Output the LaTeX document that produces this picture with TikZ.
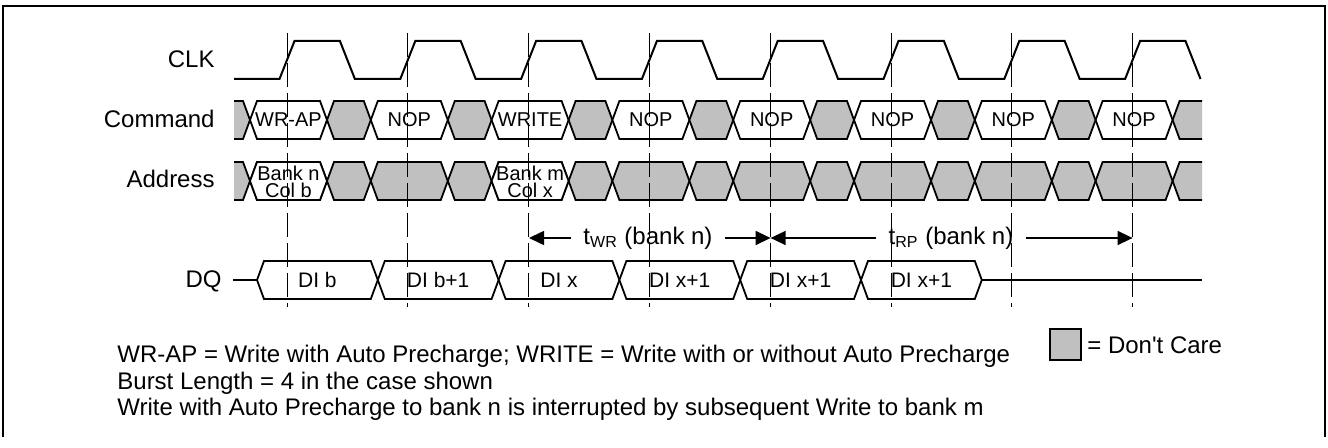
\documentclass[tikz,border=0pt]{standalone}
\usepackage{fontspec}
\setmainfont{Liberation Sans}[Ligatures=TeXOff]
\usetikzlibrary{arrows.meta}
\definecolor{dcgray}{RGB}{192,192,192}
% one bus cell: from, to, middle, fill
\newcommand{\buscell}[4]{%
  \filldraw[cell, fill=#4] ({#1},{#3}) -- ({#1+7},{#3-19}) -- ({#2-7},{#3-19}) -- ({#2},{#3})
    -- ({#2-7},{#3+19}) -- ({#1+7},{#3+19}) -- cycle;}
\begin{document}
\begin{tikzpicture}[x=0.5pt,y=-0.5pt,>={Triangle[length=7.5pt,width=7pt]},font=\fontsize{12}{14}\selectfont]
  \tikzset{sig/.style={line width=1pt},
    cell/.style={line width=0.9pt},
    grid/.style={line width=0.5pt, dash pattern=on 12pt off 3pt},
    lbl/.style={anchor=base east, inner sep=0pt},
    cmd/.style={font=\fontsize{10}{12}\selectfont, inner sep=0pt},
    addr/.style={font=\fontsize{10}{12}\selectfont, align=center, inner sep=0pt},
    dat/.style={font=\fontsize{10.5}{12}\selectfont, inner sep=0pt},
    tlbl/.style={inner xsep=6pt, inner ysep=0pt},
    note/.style={anchor=base west, inner sep=0pt}}
  \useasboundingbox (0,0) rectangle (1328,448);
  \draw[line width=0.8pt] (3,437) -- (3,6) -- (1325,6) -- (1325,437);

  % signal names
  \node[lbl] (clk) at (215,68) {CLK};
  \node[lbl] (command) at (215,128) {Command};
  \node[lbl] (address) at (215,188) {Address};
  \node[lbl] (dq) at (222,288) {DQ};

  % clock
  \draw[sig] (234,79) \foreach \k in {0,...,7} {
    -- ({287+120.8*\k-7.5},79) -- ({287+120.8*\k+7.5},41)
    -- ({287+120.8*\k+52.9},41) -- ({287+120.8*\k+67.9},79) };

  % command and address buses
  \begin{scope}
    \clip (234,90) rectangle (1202,210);
    \foreach \k in {-1,...,7} {
      \pgfmathsetmacro{\a}{250+120.8*\k}
      \pgfmathsetmacro{\b}{327+120.8*\k}
      \pgfmathsetmacro{\c}{370.8+120.8*\k}
      \buscell{\a}{\b}{120}{white}
      \buscell{\b}{\c}{120}{dcgray}
      \buscell{\a}{\b}{181}{dcgray}
      \buscell{\b}{\c}{181}{dcgray}
    }
  \end{scope}
  \buscell{250}{327}{181}{white}
  \buscell{491.6}{568.6}{181}{white}
  \foreach \t [count=\i from 0] in {WR-AP,NOP,WRITE,NOP,NOP,NOP,NOP,NOP}
    \node[cmd] (cmd\i) at ({288.5+120.8*\i},120) {\t};
  \node[addr] (addr0) at (288.5,182) {Bank n\\[-3.3pt]Col b};
  \node[addr] (addr2) at (530.1,182) {Bank m\\[-3.3pt]Col x};

  % data bus
  \draw[sig] (233,280) -- (257,280);
  \foreach \j in {0,...,5}
    \buscell{257+120.8*\j}{257+120.8*(\j+1)}{280}{white}
  \draw[sig] (981.8,280) -- (1202,280);
  \foreach \t [count=\i from 0] in {DI b,DI b+1,DI x,DI x+1,DI x+1,DI x+1}
    \node[dat] (dq\i) at ({317.4+120.8*\i},280) {\t};

  % clock edges
  \foreach \k in {0,...,7}
    \draw[grid] ({287+120.8*\k},33) -- ({287+120.8*\k},307);

  % timing
  \coordinate (wrbeg) at (529,238);
  \coordinate (wrend) at (770.6,238);
  \coordinate (rpend) at (1132.6,238);
  \node[tlbl] (twr) at (648,238) {t\textsubscript{WR} (bank n)};
  \node[tlbl] (trp) at (951,238) {t\textsubscript{RP} (bank n)};
  \draw[->, line width=0.8pt] (twr) -- (wrbeg);
  \draw[->, line width=0.8pt] (twr) -- (wrend);
  \draw[->, line width=0.8pt] (trp) -- (wrend);
  \draw[->, line width=0.8pt] (trp) -- (rpend);

  % legend and notes
  \node[draw, fill=dcgray, line width=0.8pt, minimum size=15.5pt, inner sep=0pt] (dcbox) at (1065.5,344.5) {};
  \node[anchor=west, inner sep=0pt] (dclbl) at (1087,345) {= Don't Care};
  \node[note] (n1) at (117,363) {WR-AP = Write with Auto Precharge; WRITE = Write with or without Auto Precharge};
  \node[note] (n2) at (117,390) {Burst Length = 4 in the case shown};
  \node[note] (n3) at (117,416) {Write with Auto Precharge to bank n is interrupted by subsequent Write to bank m};
\end{tikzpicture}
\end{document}
